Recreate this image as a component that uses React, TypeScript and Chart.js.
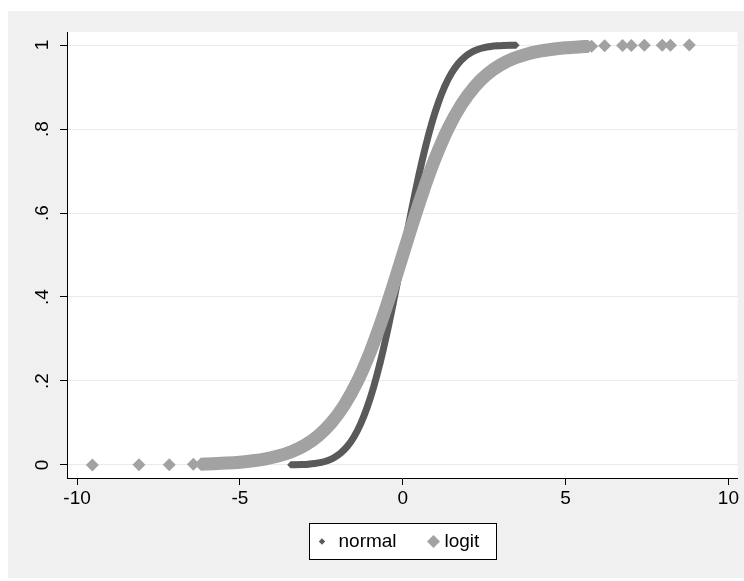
import React, { useEffect, useRef } from 'react';
import { Chart, registerables } from 'chart.js';

Chart.register(...registerables);

// ---- data ----
const normalX = [-3.44, -3.3, -3.1, -2.9, -2.7, -2.5, -2.3, -2.1, -1.9, -1.7, -1.5, -1.3, -1.1, -0.9, -0.7, -0.5, -0.3, -0.1, 0.1, 0.3, 0.5, 0.7, 0.9, 1.1, 1.3, 1.5, 1.7, 1.9, 2.1, 2.3, 2.5, 2.7, 2.9, 3.1, 3.3, 3.48];
const normalY = [0.0003, 0.0005, 0.001, 0.0019, 0.0035, 0.0062, 0.0107, 0.0179, 0.0287, 0.0446, 0.0668, 0.0968, 0.1357, 0.1841, 0.242, 0.3085, 0.3821, 0.4602, 0.5398, 0.6179, 0.6915, 0.758, 0.8159, 0.8643, 0.9032, 0.9332, 0.9554, 0.9713, 0.9821, 0.9893, 0.9938, 0.9965, 0.9981, 0.999, 0.9995, 0.9997];

const logitX = [-6.2, -5.8, -5.4, -5.0, -4.6, -4.2, -3.8, -3.4, -3.0, -2.6, -2.2, -1.8, -1.4, -1.0, -0.6, -0.2, 0.2, 0.6, 1.0, 1.4, 1.8, 2.2, 2.6, 3.0, 3.4, 3.8, 4.2, 4.6, 5.0, 5.4, 5.7];
const logitY = [0.002, 0.003, 0.0045, 0.0067, 0.01, 0.0148, 0.0219, 0.0323, 0.0474, 0.0691, 0.0998, 0.1419, 0.1978, 0.2689, 0.3543, 0.4502, 0.5498, 0.6457, 0.7311, 0.8022, 0.8581, 0.9002, 0.9309, 0.9526, 0.9677, 0.9781, 0.9852, 0.99, 0.9933, 0.9955, 0.9967];

const logitTailX = [-9.53, -8.1, -7.17, -6.43, 5.8, 6.2, 6.75, 7.02, 7.42, 7.97, 8.22, 8.8];
const logitTailY = [0.0001, 0.0003, 0.0008, 0.0016, 0.997, 0.998, 0.9988, 0.9991, 0.9994, 0.9997, 0.9997, 0.9998];

const seriesNames = ['normal', 'logit'];
const xTickValues = [-10, -5, 0, 5, 10];
const xTickLabels = ['-10', '-5', '0', '5', '10'];
const yTickValues = [0, 0.2, 0.4, 0.6, 0.8, 1];
const yTickLabels = ['0', '.2', '.4', '.6', '.8', '1'];

const DARK = '#5a5a5a';
const LIGHT = '#a2a2a2';
const FONT = '19px "Liberation Sans", Arial, sans-serif';

function toPoints(xs: number[], ys: number[]) {
  return xs.map((x, i) => ({ x, y: ys[i] }));
}

function diamond(ctx: CanvasRenderingContext2D, x: number, y: number, r: number, color: string) {
  ctx.beginPath();
  ctx.moveTo(x - r, y);
  ctx.lineTo(x, y - r);
  ctx.lineTo(x + r, y);
  ctx.lineTo(x, y + r);
  ctx.closePath();
  ctx.fillStyle = color;
  ctx.fill();
}

const backgroundPlugin = {
  id: 'stataBackground',
  beforeDraw(chart: any) {
    const { ctx, chartArea: a, width, height } = chart;
    ctx.save();
    ctx.fillStyle = '#f0f0f0';
    ctx.fillRect(0, 0, width, height);
    ctx.fillStyle = '#ffffff';
    ctx.fillRect(a.left, a.top, a.right - a.left, a.bottom - a.top);
    ctx.restore();
  },
};

const yLabelPlugin = {
  id: 'rotatedYLabels',
  afterDraw(chart: any) {
    const { ctx, chartArea: a } = chart;
    const ys = chart.scales.y;
    ctx.save();
    ctx.font = FONT;
    ctx.fillStyle = '#000';
    ctx.textAlign = 'center';
    ctx.textBaseline = 'middle';
    yTickValues.forEach((v, i) => {
      const py = ys.getPixelForValue(v);
      ctx.save();
      ctx.translate(a.left - 24.5, py);
      ctx.rotate(-Math.PI / 2);
      ctx.fillText(yTickLabels[i], 0, 0);
      ctx.restore();
    });
    ctx.restore();
  },
};

const legendPlugin = {
  id: 'boxedLegend',
  afterDraw(chart: any) {
    const { ctx, chartArea: a } = chart;
    const w = 187;
    const h = 36;
    const left = Math.round((a.left + a.right) / 2 - w / 2) + 0.5;
    const top = Math.round(a.bottom + 45) + 0.5;
    ctx.save();
    ctx.fillStyle = '#ffffff';
    ctx.fillRect(left, top, w, h);
    ctx.strokeStyle = '#000';
    ctx.lineWidth = 1;
    ctx.strokeRect(left, top, w, h);
    const cy = top + h / 2;
    diamond(ctx, left + 12.5, cy, 3.2, DARK);
    diamond(ctx, left + 124, cy, 6.5, LIGHT);
    ctx.font = FONT;
    ctx.fillStyle = '#000';
    ctx.textAlign = 'left';
    ctx.textBaseline = 'middle';
    ctx.fillText(chart.data.datasets[0].label, left + 29, cy);
    ctx.fillText(chart.data.datasets[1].label, left + 135, cy);
    ctx.restore();
  },
};

export default function App() {
  const canvasRef = useRef<HTMLCanvasElement | null>(null);

  useEffect(() => {
    if (!canvasRef.current) return;
    const chart = new Chart(canvasRef.current, {
      type: 'scatter',
      data: {
        datasets: [
          {
            label: seriesNames[0],
            data: toPoints(normalX, normalY),
            showLine: true,
            borderColor: DARK,
            backgroundColor: DARK,
            borderWidth: 7,
            borderJoinStyle: 'round',
            cubicInterpolationMode: 'monotone',
            pointStyle: 'rectRot',
            pointRadius: 3.6,
            pointBorderWidth: 0,
            order: 2,
          },
          {
            label: seriesNames[1],
            data: toPoints(logitX, logitY),
            showLine: true,
            borderColor: LIGHT,
            backgroundColor: LIGHT,
            borderWidth: 13,
            borderJoinStyle: 'round',
            cubicInterpolationMode: 'monotone',
            pointStyle: 'rectRot',
            pointRadius: 6.5,
            pointBorderWidth: 0,
            order: 1,
          },
          {
            label: seriesNames[1] + ' tails',
            data: toPoints(logitTailX, logitTailY),
            showLine: false,
            borderColor: LIGHT,
            backgroundColor: LIGHT,
            pointStyle: 'rectRot',
            pointRadius: 6.5,
            pointBorderWidth: 0,
            order: 1,
          },
        ],
      },
      options: {
        responsive: false,
        animation: false,
        layout: { padding: { left: 0, top: 21, right: 5, bottom: 60 } },
        plugins: {
          legend: { display: false },
          tooltip: { enabled: false },
        },
        scales: {
          x: {
            type: 'linear',
            min: -10.31,
            max: 10.28,
            afterBuildTicks: (scale: any) => {
              scale.ticks = xTickValues.map((v) => ({ value: v }));
            },
            afterFit: (scale: any) => {
              scale.height = 40;
            },
            grid: {
              drawOnChartArea: false,
              drawTicks: true,
              tickLength: 7,
              tickColor: '#000',
            },
            border: { display: true, color: '#000', width: 1 },
            ticks: {
              color: '#000',
              font: { family: '"Liberation Sans", Arial, sans-serif', size: 19 },
              padding: 2,
              maxRotation: 0,
              autoSkip: false,
              callback: (value: any) => {
                const i = xTickValues.indexOf(Number(value));
                return i >= 0 ? xTickLabels[i] : '';
              },
            },
          },
          y: {
            type: 'linear',
            min: -0.031,
            max: 1.031,
            afterBuildTicks: (scale: any) => {
              scale.ticks = yTickValues.map((v) => ({ value: v }));
            },
            afterFit: (scale: any) => {
              scale.width = 59;
            },
            grid: {
              color: '#eaeaea',
              lineWidth: 1,
              drawTicks: true,
              tickLength: 7,
              tickColor: '#000',
            },
            border: { display: true, color: '#000', width: 1 },
            ticks: { display: false },
          },
        },
      },
      plugins: [backgroundPlugin, yLabelPlugin, legendPlugin],
    } as any);
    return () => chart.destroy();
  }, []);

  return (
    <div style={{ position: 'absolute', left: 8, top: 11, width: 736, height: 567 }}>
      <canvas ref={canvasRef} width={736} height={567} style={{ display: 'block' }} />
    </div>
  );
}
